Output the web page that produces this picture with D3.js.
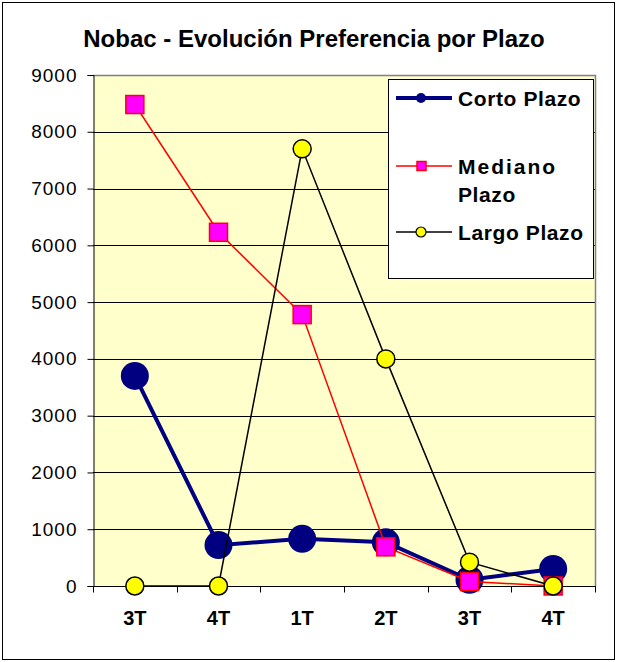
<!DOCTYPE html>
<html>
<head>
<meta charset="utf-8">
<script src="https://cdn.jsdelivr.net/npm/d3@7"></script>
<style>
    body { margin: 0; background: #fff; }
    svg text { font-family: Arial, "Liberation Sans", sans-serif; }
</style>
</head>
<body>
<div id="chart"></div>
<script>
// Chart data
const categories = ['3T', '4T', '1T', '2T', '3T', '4T'];
const corto = [3700, 720, 830, 770, 110, 300];
const mediano = [8480, 6230, 4780, 690, 80, 0];
const largo = [0, 0, 7700, 4000, 420, 0];
const yTicks = [0, 1000, 2000, 3000, 4000, 5000, 6000, 7000, 8000, 9000];

const width = 617, height = 662;
const plot = { left: 93, top: 75, right: 595, bottom: 586 };

const svg = d3.select('#chart')
    .append('svg')
    .attr('width', width)
    .attr('height', height);

// Outer border
svg.append('rect')
    .attr('x', 2.5).attr('y', 2.5)
    .attr('width', width - 5).attr('height', height - 5)
    .attr('fill', '#fff')
    .attr('stroke', '#000');

// Title
svg.append('text')
    .attr('x', 314)
    .attr('y', 47)
    .attr('text-anchor', 'middle')
    .attr('font-size', 24)
    .attr('font-weight', 'bold')
    .text('Nobac - Evolución Preferencia por Plazo');

// Scales
const x = d3.scaleBand()
    .domain(d3.range(categories.length))
    .range([plot.left, plot.right]);
const y = d3.scaleLinear()
    .domain([0, 9000])
    .range([plot.bottom, plot.top]);

// Plot background
svg.append('rect')
    .attr('x', plot.left).attr('y', plot.top)
    .attr('width', plot.right - plot.left)
    .attr('height', plot.bottom - plot.top)
    .attr('fill', '#FFFFCC');

// Gridlines
svg.append('g')
    .selectAll('line')
    .data(yTicks.filter(d => d > 0 && d < 9000))
    .enter()
    .append('line')
    .attr('x1', plot.left).attr('x2', plot.right)
    .attr('y1', d => Math.round(y(d)) + 0.5)
    .attr('y2', d => Math.round(y(d)) + 0.5)
    .attr('stroke', '#000');

// Plot border (top / right gray)
svg.append('path')
    .attr('d', `M${plot.left},${plot.top + 0.5}H${plot.right + 0.5}V${plot.bottom}`)
    .attr('fill', 'none')
    .attr('stroke', '#808080')
    .attr('stroke-width', 1.5);

// Y axis
const yAxis = svg.append('g')
    .attr('transform', `translate(${plot.left + 0.5},0)`)
    .call(d3.axisLeft(y).tickValues(yTicks).tickSize(6).tickPadding(10).tickFormat(d3.format('d')));
yAxis.select('.domain').attr('stroke', '#000');
yAxis.selectAll('.tick line').attr('stroke', '#000');
yAxis.selectAll('text')
    .attr('font-size', 19)
    .attr('letter-spacing', 1)
    .attr('fill', '#000')
    .attr('font-family', 'Arial, "Liberation Sans", sans-serif');

// X axis
const xAxis = svg.append('g')
    .attr('transform', `translate(0,${plot.bottom + 0.5})`);
xAxis.append('line')
    .attr('x1', plot.left).attr('x2', plot.right + 1)
    .attr('stroke', '#000');
xAxis.selectAll('.xtick')
    .data(d3.range(categories.length + 1))
    .enter()
    .append('line')
    .attr('class', 'xtick')
    .attr('x1', i => Math.round(plot.left + i * x.step()) + 0.5)
    .attr('x2', i => Math.round(plot.left + i * x.step()) + 0.5)
    .attr('y1', 0).attr('y2', 6)
    .attr('stroke', '#000');
xAxis.selectAll('.xlabel')
    .data(categories)
    .enter()
    .append('text')
    .attr('class', 'xlabel')
    .attr('x', (d, i) => x(i) + x.bandwidth() / 2)
    .attr('y', 38)
    .attr('text-anchor', 'middle')
    .attr('font-size', 20)
    .attr('font-weight', 'bold')
    .text(d => d);

const cx = i => x(i) + x.bandwidth() / 2;
const line = d3.line().x((d, i) => cx(i)).y(d => y(d));

// Corto Plazo
svg.append('path')
    .datum(corto)
    .attr('d', line)
    .attr('fill', 'none')
    .attr('stroke', '#000080')
    .attr('stroke-width', 4);
svg.selectAll('.corto')
    .data(corto)
    .enter()
    .append('circle')
    .attr('cx', (d, i) => cx(i))
    .attr('cy', d => y(d))
    .attr('r', 14)
    .attr('fill', '#000080');

// Mediano Plazo
svg.append('path')
    .datum(mediano)
    .attr('d', line)
    .attr('fill', 'none')
    .attr('stroke', '#FF0000')
    .attr('stroke-width', 1.5);
svg.selectAll('.mediano')
    .data(mediano)
    .enter()
    .append('rect')
    .attr('x', (d, i) => cx(i) - 9)
    .attr('y', d => y(d) - 9)
    .attr('width', 18)
    .attr('height', 18)
    .attr('fill', '#FF00FF')
    .attr('stroke', '#FF0000')
    .attr('stroke-width', 1.5);

// Largo Plazo
svg.append('path')
    .datum(largo)
    .attr('d', line)
    .attr('fill', 'none')
    .attr('stroke', '#000')
    .attr('stroke-width', 1.5);
svg.selectAll('.largo')
    .data(largo)
    .enter()
    .append('circle')
    .attr('cx', (d, i) => cx(i))
    .attr('cy', d => y(d))
    .attr('r', 9)
    .attr('fill', '#FFFF00')
    .attr('stroke', '#000')
    .attr('stroke-width', 1.5);

// Legend
const legend = svg.append('g');
legend.append('rect')
    .attr('x', 388.5).attr('y', 79.5)
    .attr('width', 205).attr('height', 199)
    .attr('fill', '#fff')
    .attr('stroke', '#000');

const items = [
    { lines: ['Corto Plazo'], y: 98, color: '#000080', sw: 4, marker: 'big' },
    { lines: ['Mediano', 'Plazo'], y: 166, color: '#FF0000', sw: 1.5, marker: 'square' },
    { lines: ['Largo Plazo'], y: 232, color: '#000', sw: 1.5, marker: 'yellow' }
];
items.forEach(it => {
    legend.append('line')
        .attr('x1', 396).attr('x2', 452)
        .attr('y1', it.y).attr('y2', it.y)
        .attr('stroke', it.color)
        .attr('stroke-width', it.sw);
    if (it.marker === 'big') {
        legend.append('circle').attr('cx', 421).attr('cy', it.y).attr('r', 5).attr('fill', '#000080');
    } else if (it.marker === 'square') {
        legend.append('rect').attr('x', 417).attr('y', it.y - 4.5).attr('width', 9).attr('height', 9)
            .attr('fill', '#FF00FF').attr('stroke', '#FF0000').attr('stroke-width', 1.5);
    } else {
        legend.append('circle').attr('cx', 421).attr('cy', it.y).attr('r', 5)
            .attr('fill', '#FFFF00').attr('stroke', '#000').attr('stroke-width', 1.2);
    }
    it.lines.forEach((t, k) => {
        legend.append('text')
            .attr('x', 458)
            .attr('y', it.y + 8 + k * 28)
            .attr('font-size', 21)
            .attr('font-weight', 'bold')
            .attr('letter-spacing', k === 0 && it.marker === 'square' ? 2 : 0.6)
            .text(t);
    });
});
</script>
</body>
</html>
